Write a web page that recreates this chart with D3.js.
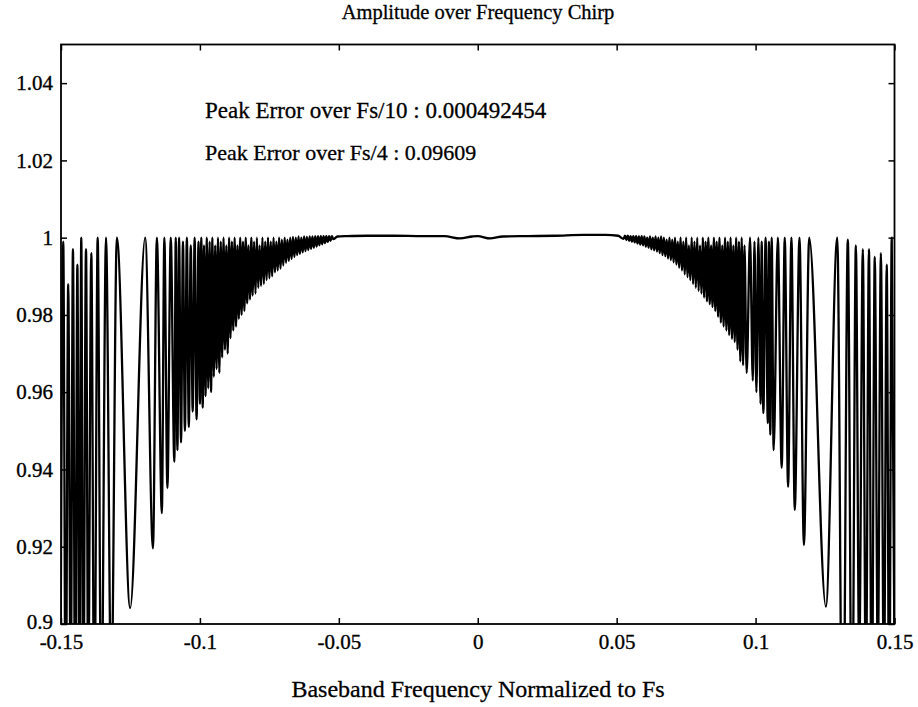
<!DOCTYPE html>
<html>
<head>
<meta charset="utf-8">
<script src="https://cdn.jsdelivr.net/npm/d3@7"></script>
<style>
  html, body { margin: 0; padding: 0; background: #fff; }
  svg { display: block; }
  text { font-family: "Liberation Serif", "Times New Roman", serif; fill: #000; }
</style>
</head>
<body>
<svg id="chart" width="918" height="707"></svg>
<script>
// ---------------- data ----------------
const titleText = "Amplitude over Frequency Chirp";
const xLabelText = "Baseband Frequency Normalized to Fs";
const notes = ["Peak Error over Fs/10 : 0.000492454", "Peak Error over Fs/4 : 0.09609"];

const xTicks = [-0.15, -0.1, -0.05, 0, 0.05, 0.1, 0.15];
const xTickLabels = ["-0.15", "-0.1", "-0.05", "0", "0.05", "0.1", "0.15"];
const yTicks = [0.9, 0.92, 0.94, 0.96, 0.98, 1.0, 1.02, 1.04];
const yTickLabels = ["0.9", "0.92", "0.94", "0.96", "0.98", "1", "1.02", "1.04"];

// left edge (troughs clipped below 0.9)
const freqLeftEdge = [-0.1502, -0.1492, -0.1483, -0.1474, -0.1465, -0.1457, -0.1449, -0.1441, -0.1434, -0.1427, -0.1420, -0.1410, -0.1402, -0.1391, -0.1380, -0.1368, -0.1355, -0.1338, -0.1319];
const ampLeftEdge  = [0.880, 0.999, 0.870, 0.988, 0.880, 0.997, 0.870, 0.993, 0.880, 1.000, 0.870, 0.997, 0.880, 0.996, 0.870, 1.000, 0.870, 1.000, 0.880];

// left deep dip and transition
const freqLeftDip = [-0.1299, -0.1251, -0.1197, -0.1169, -0.1155, -0.1137, -0.1128, -0.1117, -0.1105, -0.1092, -0.1087, -0.1081];
const ampLeftDip  = [1.000, 0.9041, 1.000, 0.9196, 1.000, 0.9287, 1.000, 0.9352, 1.000, 0.942, 1.000, 0.945];

// left dense oscillation
const freqLeftDense = [-0.1075, -0.1068, -0.1061, -0.1054, -0.1047, -0.1040, -0.1033, -0.1026, -0.1019, -0.1012, -0.1005,
  -0.1000, -0.0995, -0.0990, -0.0985, -0.0980, -0.0975, -0.0970, -0.0965, -0.0960, -0.0955,
  -0.0950, -0.0945, -0.0940, -0.0935, -0.0930, -0.0925, -0.0920, -0.0915, -0.0910, -0.0905,
  -0.0900, -0.0895, -0.0890, -0.0885, -0.0880, -0.0875, -0.0870, -0.0865, -0.0860, -0.0855,
  -0.0850, -0.0845, -0.0840, -0.0835, -0.0830, -0.0825, -0.0820, -0.0815, -0.0810, -0.0805,
  -0.0800, -0.0795, -0.0790, -0.0785, -0.0780, -0.0775, -0.0770, -0.0765, -0.0760, -0.0755,
  -0.0750, -0.0745, -0.0740, -0.0735, -0.0730, -0.0725, -0.0720, -0.0715, -0.0710, -0.0705,
  -0.0700, -0.0695, -0.0690, -0.0685, -0.0680, -0.0675, -0.0670, -0.0665, -0.0660, -0.0655,
  -0.0650, -0.0645, -0.0640, -0.0635, -0.0630, -0.0625, -0.0620, -0.0615, -0.0610, -0.0605,
  -0.0600, -0.0595, -0.0590, -0.0585, -0.0580, -0.0575, -0.0570, -0.0565, -0.0560, -0.0555,
  -0.0550, -0.0545, -0.0540, -0.0535, -0.0530, -0.0525, -0.0520];
const ampLeftDense = [1.000, 0.947, 0.999, 0.950, 1.000, 0.951, 0.998, 0.955, 1.000, 0.953, 0.999,
  0.957, 1.000, 0.956, 0.998, 0.959, 1.000, 0.961, 0.999, 0.960, 1.000,
  0.964, 0.998, 0.966, 1.000, 0.965, 0.999, 0.969, 1.000, 0.971, 0.998,
  0.970, 1.000, 0.974, 0.999, 0.976, 1.000, 0.977, 0.998, 0.979, 1.000,
  0.980, 0.999, 0.981, 1.000, 0.983, 0.998, 0.984, 1.000, 0.985, 0.999,
  0.9855, 1.000, 0.987, 0.998, 0.9875, 1.000, 0.988, 0.999, 0.989, 1.000,
  0.9895, 0.999, 0.990, 1.000, 0.991, 0.999, 0.9915, 1.000, 0.992, 0.9995,
  0.9928, 1.000, 0.9935, 0.9995, 0.994, 1.000, 0.9945, 1.0002, 0.995, 1.000,
  0.9955, 1.0003, 0.9958, 1.000, 0.9962, 1.0003, 0.9965, 1.0002, 0.9968, 1.0003,
  0.9971, 1.0003, 0.9974, 1.0004, 0.9977, 1.0004, 0.998, 1.0004, 0.9983, 1.0004,
  0.9986, 1.0004, 0.9989, 1.0004, 0.9992, 1.0004, 0.9996];

// flat centre with small ripples
const freqCentre = [-0.0505, -0.0470, -0.0400, -0.0300, -0.0200, -0.0120, -0.0064, -0.0020, 0.0000, 0.0044, 0.0090, 0.0180, 0.0280, 0.0380, 0.0460, 0.0505];
const ampCentre  = [1.0003, 1.0004, 1.0005, 1.0005, 1.0004, 1.0004, 0.9998, 1.0003, 1.0004, 0.9998, 1.0003, 1.0004, 1.0005, 1.0007, 1.0007, 1.0005];

// right dense oscillation
const freqRightDense = [0.0525, 0.0530, 0.0535, 0.0540, 0.0545, 0.0550, 0.0555, 0.0560, 0.0565, 0.0570,
  0.0575, 0.0580, 0.0585, 0.0590, 0.0595, 0.0600, 0.0605, 0.0610, 0.0615, 0.0620,
  0.0625, 0.0630, 0.0635, 0.0640, 0.0645, 0.0650, 0.0655, 0.0660, 0.0665, 0.0670,
  0.0675, 0.0680, 0.0685, 0.0690, 0.0695, 0.0700, 0.0705, 0.0710, 0.0715, 0.0720,
  0.0725, 0.0730, 0.0735, 0.0740, 0.0745, 0.0750, 0.0755, 0.0760, 0.0765, 0.0770,
  0.0775, 0.0780, 0.0785, 0.0790, 0.0795, 0.0800, 0.0805, 0.0810, 0.0815, 0.0820,
  0.0825, 0.0830, 0.0835, 0.0840, 0.0845, 0.0850, 0.0855, 0.0860, 0.0865, 0.0870,
  0.0875, 0.0880, 0.0885, 0.0890, 0.0895, 0.0900, 0.0905, 0.0910, 0.0915, 0.0920,
  0.0925, 0.0930, 0.0935, 0.0940, 0.0945, 0.0950, 0.0955, 0.0960, 0.0968, 0.0980,
  0.0990, 0.0996, 0.1003, 0.1010, 0.1018, 0.1022, 0.1028, 0.1036, 0.1044, 0.1048,
  0.1053, 0.1058, 0.1065];
const ampRightDense = [0.9997, 1.0005, 0.9994, 1.0005, 0.9992, 1.0004, 0.999, 1.0004, 0.9988, 1.0004,
  0.9985, 1.0003, 0.9982, 1.0004, 0.998, 1.0003, 0.9977, 1.000, 0.9974, 1.0003,
  0.997, 1.000, 0.9967, 1.0003, 0.9964, 1.000, 0.996, 1.0003, 0.9955, 1.000,
  0.9952, 0.9995, 0.9946, 1.000, 0.9942, 0.9995, 0.9936, 1.000, 0.993, 0.999,
  0.9922, 1.000, 0.9915, 0.999, 0.9905, 1.000, 0.9898, 0.998, 0.989, 1.000,
  0.988, 0.999, 0.987, 1.000, 0.9862, 0.998, 0.9855, 1.000, 0.9845, 0.999,
  0.9835, 1.000, 0.9828, 0.998, 0.982, 1.000, 0.981, 0.999, 0.9795, 1.000,
  0.978, 0.998, 0.977, 1.000, 0.976, 0.999, 0.9748, 1.000, 0.9738, 0.998,
  0.973, 1.000, 0.971, 0.999, 0.968, 1.000, 0.967, 0.998, 0.965, 1.000,
  0.963, 0.999, 0.960, 1.000, 0.957, 0.999, 0.9546, 1.000, 0.952, 0.999,
  0.949, 1.000, 0.945];

// right transition and deep dip
const freqRightDip = [0.1080, 0.1094, 0.1105, 0.1117, 0.1129, 0.1141, 0.1158, 0.1174, 0.1193, 0.1253, 0.1294];
const ampRightDip  = [1.000, 0.9404, 1.000, 0.9355, 1.000, 0.9295, 1.000, 0.9204, 1.000, 0.9045, 1.000];

// right edge (troughs clipped below 0.9)
const freqRightEdge = [0.1314, 0.1332, 0.1347, 0.1361, 0.1373, 0.1386, 0.1397, 0.1408, 0.1418, 0.1429, 0.1440, 0.1451, 0.1462, 0.1472, 0.1481, 0.1490, 0.1501];
const ampRightEdge  = [0.850, 0.9995, 0.860, 0.998, 0.890, 0.997, 0.880, 0.997, 0.870, 0.995, 0.890, 0.996, 0.880, 0.993, 0.870, 1.000, 0.880];

// ---------------- drawing ----------------
const W = 918, H = 707;
const margin = { left: 61, right: W - 894.5, top: 44.5, bottom: H - 624 };
const x = d3.scaleLinear().domain([-0.15, 0.15]).range([margin.left, W - margin.right]);
const y = d3.scaleLinear().domain([0.9, 1.05]).range([H - margin.bottom, margin.top]);

const svg = d3.select("#chart");

const segments = [
  [freqLeftEdge, ampLeftEdge], [freqLeftDip, ampLeftDip], [freqLeftDense, ampLeftDense],
  [freqCentre, ampCentre], [freqRightDense, ampRightDense], [freqRightDip, ampRightDip],
  [freqRightEdge, ampRightEdge]
];
const points = segments.flatMap(([f, a]) => f.map((v, i) => [v, a[i]]));

svg.append("defs").append("clipPath").attr("id", "plotClip")
  .append("rect")
  .attr("x", x(-0.15)).attr("y", y(1.05))
  .attr("width", x(0.15) - x(-0.15)).attr("height", y(0.9) - y(1.05));

const line = d3.line().x(d => x(d[0])).y(d => y(d[1])).curve(d3.curveMonotoneX);

svg.append("path")
  .datum(points)
  .attr("clip-path", "url(#plotClip)")
  .attr("d", line)
  .attr("fill", "none")
  .attr("stroke", "#000")
  .attr("stroke-width", 2.3)
  .attr("stroke-linejoin", "round");

// axes
const fontSize = 21;
function styleAxis(g) {
  g.select(".domain").remove();
  g.selectAll(".tick line").attr("stroke", "#000").attr("stroke-width", 1.5);
  g.selectAll("text").attr("font-size", fontSize)
    .attr("font-family", '"Liberation Serif", "Times New Roman", serif')
    .attr("stroke", "#000").attr("stroke-width", 0.35);
}

svg.append("g").attr("transform", `translate(0,${y(0.9)})`)
  .call(d3.axisBottom(x).tickValues(xTicks).tickSize(-6).tickPadding(10)
    .tickFormat((d, i) => xTickLabels[i]))
  .call(styleAxis);
svg.append("g").attr("transform", `translate(0,${y(1.05)})`)
  .call(d3.axisTop(x).tickValues(xTicks).tickSize(-6).tickFormat(""))
  .call(styleAxis);
const yAxisG = svg.append("g").attr("transform", `translate(${x(-0.15)},0)`)
  .call(d3.axisLeft(y).tickValues(yTicks).tickSize(-6).tickPadding(8)
    .tickFormat((d, i) => yTickLabels[i]))
  .call(styleAxis);
yAxisG.selectAll(".tick text").filter(d => d === 0.9).attr("dy", "0.2em");
svg.append("g").attr("transform", `translate(${x(0.15)},0)`)
  .call(d3.axisRight(y).tickValues(yTicks).tickSize(-6).tickFormat(""))
  .call(styleAxis);

// frame
svg.append("rect")
  .attr("x", x(-0.15)).attr("y", y(1.05))
  .attr("width", x(0.15) - x(-0.15)).attr("height", y(0.9) - y(1.05))
  .attr("fill", "none").attr("stroke", "#000").attr("stroke-width", 1.8);

// titles and notes
svg.append("text").attr("x", 478).attr("y", 19).attr("text-anchor", "middle")
  .attr("font-size", 20.5).attr("stroke", "#000").attr("stroke-width", 0.3).text(titleText);
svg.append("text").attr("x", 478).attr("y", 697).attr("text-anchor", "middle")
  .attr("font-size", 24).attr("stroke", "#000").attr("stroke-width", 0.3).text(xLabelText);
const noteSizes = [23, 22];
notes.forEach((t, i) => {
  svg.append("text").attr("x", 205).attr("y", 118 + i * 42)
    .attr("font-size", noteSizes[i]).attr("stroke", "#000").attr("stroke-width", 0.3).text(t);
});
</script>
</body>
</html>
